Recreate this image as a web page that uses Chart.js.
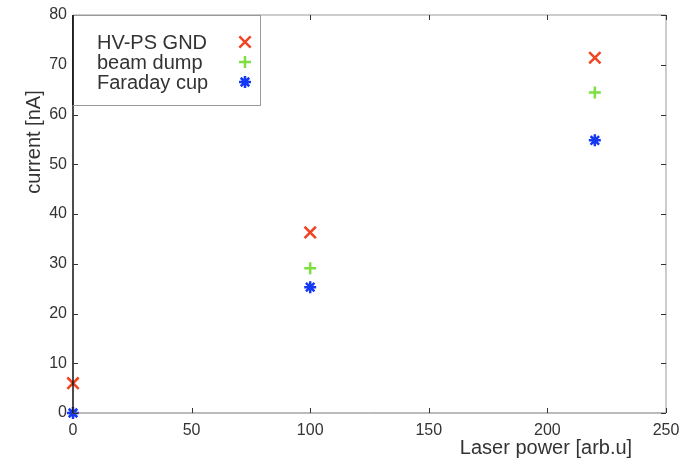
<!DOCTYPE html>
<html>
<head>
<meta charset="utf-8">
<script src="https://cdn.jsdelivr.net/npm/chart.js@4.4.0/dist/chart.umd.min.js"></script>
<style>
  html, body { margin: 0; padding: 0; background: #fff; }
  #wrap { width: 699px; height: 464px; }
</style>
</head>
<body>
<div id="wrap"><canvas id="chart" width="699" height="464"></canvas></div>
<script>
/* data */
const seriesLabels = ["HV-PS GND", "beam dump", "Faraday cup"];
const hvX   = [0, 100, 220];
const hvY   = [6.0, 36.3, 71.4];
const dumpX = [100, 220];
const dumpY = [29.1, 64.4];
const cupX  = [0, 100, 220];
const cupY  = [0.0, 25.3, 54.8];
const xTicks = [0, 50, 100, 150, 200, 250];
const yTicks = [0, 10, 20, 30, 40, 50, 60, 70, 80];
const xTitle = "Laser power [arb.u]";
const yTitle = "current [nA]";

const colors = ["#ef4523", "#7ee040", "#1538f2"];
const styles = ["crossRot", "cross", "star"];
const radii  = [8, 6, 6];
const FONT = "'Liberation Sans', Arial, sans-serif";
const TXT = "#333";

function pts(xs, ys) { return xs.map((x, i) => ({ x, y: ys[i] })); }

/* frame, inward ticks on all four sides, axis titles and the boxed legend */
const framePlugin = {
  id: "frame",
  afterDraw(chart) {
    const { ctx, chartArea: a, scales } = chart;
    const tl = 5;
    ctx.save();
    ctx.lineWidth = 1;
    ctx.strokeStyle = "#999";
    ctx.beginPath();
    ctx.moveTo(a.left, a.top); ctx.lineTo(a.right, a.top); ctx.lineTo(a.right, a.bottom);
    ctx.stroke();
    ctx.strokeStyle = "#777";
    ctx.beginPath();
    ctx.moveTo(a.left, a.bottom); ctx.lineTo(a.right, a.bottom);
    ctx.stroke();
    ctx.strokeStyle = "#111";
    ctx.lineWidth = 1.5;
    ctx.beginPath();
    ctx.moveTo(a.left, a.top); ctx.lineTo(a.left, a.bottom);
    ctx.stroke();

    ctx.strokeStyle = "#333";
    ctx.lineWidth = 1;
    ctx.beginPath();
    xTicks.forEach(v => {
      const px = Math.round(scales.x.getPixelForValue(v)) + 0.5;
      ctx.moveTo(px, a.bottom); ctx.lineTo(px, a.bottom - tl);
      ctx.moveTo(px, a.top);    ctx.lineTo(px, a.top + tl);
    });
    yTicks.forEach(v => {
      const py = Math.round(scales.y.getPixelForValue(v)) + 0.5;
      ctx.moveTo(a.left, py);  ctx.lineTo(a.left + tl, py);
      ctx.moveTo(a.right, py); ctx.lineTo(a.right - tl, py);
    });
    ctx.stroke();

    // axis titles (offset like the original, not centred)
    ctx.fillStyle = TXT;
    ctx.font = "20px " + FONT;
    ctx.textAlign = "center";
    ctx.textBaseline = "middle";
    ctx.fillText(xTitle, 546, 448);
    ctx.save();
    ctx.translate(34, 142);
    ctx.rotate(-Math.PI / 2);
    ctx.fillText(yTitle, 0, 0);
    ctx.restore();

    // legend box
    const bx = a.left, by = a.top, bw = 187, bh = 90;
    ctx.fillStyle = "#fff";
    ctx.fillRect(bx, by, bw, bh);
    ctx.strokeStyle = "#999";
    ctx.lineWidth = 1;
    ctx.strokeRect(bx + 0.5, by + 0.5, bw, bh);
    ctx.strokeStyle = "#111";
    ctx.lineWidth = 1.5;
    ctx.beginPath(); ctx.moveTo(a.left, by); ctx.lineTo(a.left, by + bh); ctx.stroke();

    ctx.font = "20px " + FONT;
    ctx.textAlign = "left";
    chart.data.datasets.forEach((ds, i) => {
      const ty = by + 27 + i * 20;
      ctx.fillStyle = TXT;
      ctx.fillText(ds.label, bx + 24, ty + 1);
      ctx.strokeStyle = ds.borderColor;
      ctx.lineWidth = 2.5;
      Chart.helpers.drawPoint(ctx, { pointStyle: ds.pointStyle, radius: ds.pointRadius, rotation: 0, borderWidth: 2.5 },
        bx + 172, ty);
    });
    ctx.restore();
  }
};

const datasets = [
  { label: seriesLabels[0], data: pts(hvX, hvY), order: 0 },
  { label: seriesLabels[1], data: pts(dumpX, dumpY), order: 1 },
  { label: seriesLabels[2], data: pts(cupX, cupY), order: 2 },
].map((d, i) => Object.assign(d, {
  borderColor: colors[i],
  backgroundColor: colors[i],
  pointStyle: styles[i],
  pointRadius: radii[i],
  pointBorderWidth: 2.5,
  clip: false,
}));

new Chart(document.getElementById("chart"), {
  type: "scatter",
  data: { datasets },
  plugins: [framePlugin],
  options: {
    responsive: false,
    animation: false,
    layout: { padding: { top: 15, right: 33, left: 0, bottom: 0 } },
    plugins: { legend: { display: false }, tooltip: { enabled: false } },
    scales: {
      x: {
        type: "linear", min: 0, max: 250,
        afterBuildTicks: s => { s.ticks = xTicks.map(v => ({ value: v })); },
        afterFit: s => { s.height = 51; },
        grid: { display: false },
        border: { display: false },
        ticks: { color: TXT, font: { family: FONT, size: 16 }, padding: 0 },
      },
      y: {
        type: "linear", min: 0, max: 80,
        afterBuildTicks: s => { s.ticks = yTicks.map(v => ({ value: v })); },
        afterFit: s => { s.width = 73; },
        grid: { display: false },
        border: { display: false },
        ticks: { color: TXT, font: { family: FONT, size: 16 }, padding: -2 },
      },
    },
  },
});
</script>
</body>
</html>
